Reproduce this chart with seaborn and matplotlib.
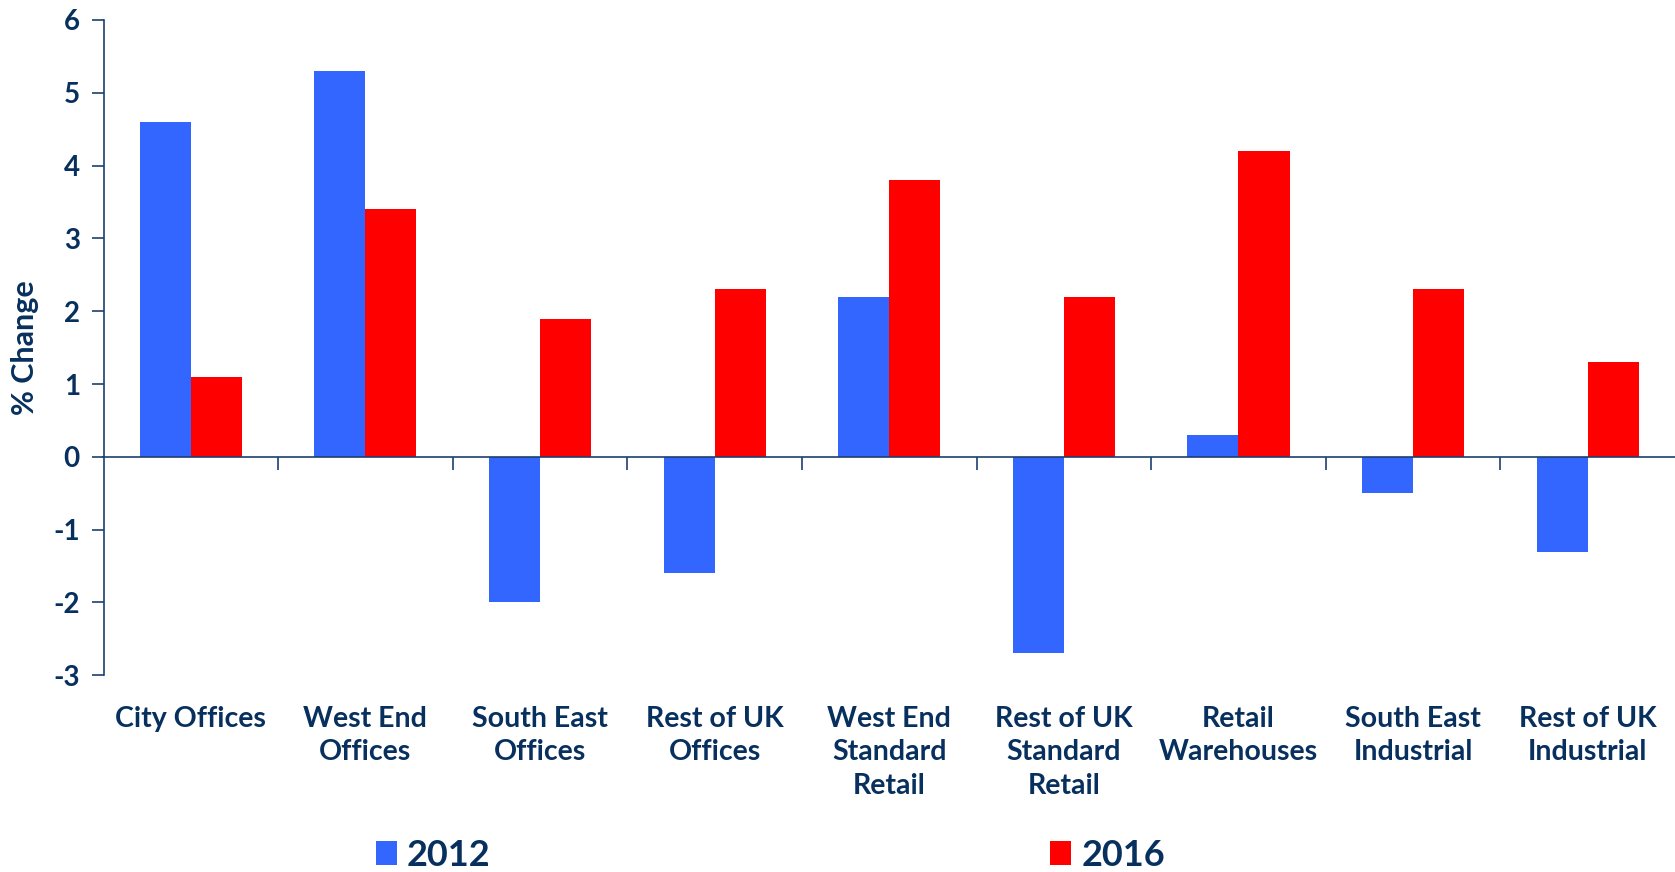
import matplotlib
matplotlib.use("Agg")
import matplotlib.pyplot as plt
import seaborn as sns
import pandas as pd

# Annual % change by property sector
categories = [
    "City Offices", "West End\nOffices", "South East\nOffices", "Rest of UK\nOffices",
    "West End\nStandard\nRetail", "Rest of UK\nStandard\nRetail", "Retail\nWarehouses",
    "South East\nIndustrial", "Rest of UK\nIndustrial",
]
years = ["2012", "2016"]
values_2012 = [4.6, 5.3, -2.0, -1.6, 2.2, -2.7, 0.3, -0.5, -1.3]
values_2016 = [1.1, 3.4, 1.9, 2.3, 3.8, 2.2, 4.2, 2.3, 1.3]
y_ticks = [-3, -2, -1, 0, 1, 2, 3, 4, 5, 6]

NAVY = "#08305e"
AXIS = "#1d3f6e"
colors = {"2012": "#3366FF", "2016": "#FF0000"}

sns.set_theme(style="white")
plt.rcParams["font.family"] = ["Lato", "DejaVu Sans"]
plt.rcParams["font.weight"] = "bold"

df = pd.DataFrame({
    "sector": categories * 2,
    "year": [years[0]] * len(categories) + [years[1]] * len(categories),
    "change": values_2012 + values_2016,
})

fig = plt.figure(figsize=(16.75, 8.72), dpi=100)
ax = fig.add_axes([103.5 / 1675, 1 - 675.3 / 872, 1 - 103.5 / 1675, (675.3 - 20) / 872])

sns.barplot(data=df, x="sector", y="change", hue="year", order=categories,
            hue_order=years, palette=colors, saturation=1, width=0.585,
            ax=ax, linewidth=0)

ax.set_xlim(-0.5, len(categories) - 0.5)
ax.set_ylim(-3, 6)
ax.set_yticks(y_ticks)
ax.set_yticklabels([str(t) for t in y_ticks])

for s in ("top", "right"):
    ax.spines[s].set_visible(False)
ax.spines["left"].set_color(AXIS)
ax.spines["left"].set_linewidth(1.2)
ax.spines["bottom"].set_position(("data", 0))
ax.spines["bottom"].set_color(AXIS)
ax.spines["bottom"].set_linewidth(1.2)

# category boundary ticks on the zero line
ax.set_xticks([i + 0.5 for i in range(len(categories) - 1)])
ax.set_xticklabels([])
ax.tick_params(axis="x", direction="out", length=9, width=1.2, color=AXIS, bottom=True)
ax.tick_params(axis="y", direction="out", length=9, width=1.2, color=AXIS, left=True,
               labelsize=20, labelcolor=NAVY, pad=8)
for lab in ax.get_yticklabels():
    lab.set_fontweight("bold")

# category labels below the plot area
sec = ax.secondary_xaxis(0)
sec.set_xticks(range(len(categories)))
sec.set_xticklabels(categories)
sec.spines["bottom"].set_visible(False)
sec.tick_params(axis="x", length=0, pad=22, labelsize=20.5, labelcolor=NAVY)
for lab in sec.get_xticklabels():
    lab.set_fontweight("bold")
    lab.set_linespacing(1.36)

ax.set_xlabel("")
ax.set_ylabel("% Change", fontsize=22, fontweight="bold", color=NAVY, labelpad=10)

sns.move_legend(
    ax, "center left", bbox_to_anchor=(376 / 1675, 1 - 855 / 872),
    bbox_transform=fig.transFigure, ncol=2, frameon=False, title=None,
    prop={"family": ["Lato", "DejaVu Sans"], "weight": "bold", "size": 26},
    handlelength=0.58, handleheight=0.64, handletextpad=0.28, columnspacing=15.5,
    borderpad=0, borderaxespad=0,
)
for t in ax.get_legend().get_texts():
    t.set_color(NAVY)

fig.savefig("out.png", dpi=100)
